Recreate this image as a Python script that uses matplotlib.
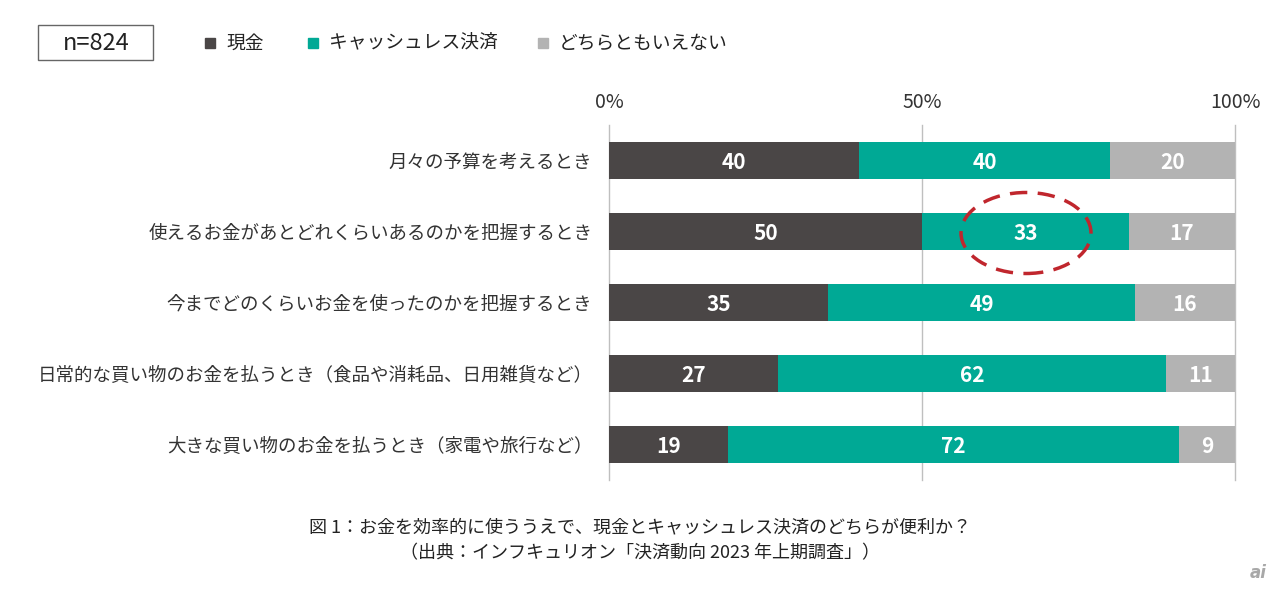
import matplotlib
matplotlib.use('Agg')
import matplotlib.pyplot as plt
from matplotlib.patches import Ellipse, Rectangle
import numpy as np

plt.rcParams['font.family'] = ['Noto Sans CJK JP', 'DejaVu Sans']

categories = [
    "月々の予算を考えるとき",
    "使えるお金があとどれくらいあるのかを把握するとき",
    "今までどのくらいお金を使ったのかを把握するとき",
    "日常的な買い物のお金を払うとき（食品や消耗品、日用雑貨など）",
    "大きな買い物のお金を払うとき（家電や旅行など）",
]
cash = [40, 50, 35, 27, 19]
cashless = [40, 33, 49, 62, 72]
neither = [20, 17, 16, 11, 9]
series_names = ["現金", "キャッシュレス決済", "どちらともいえない"]
colors = ["#4a4646", "#00a995", "#b3b3b3"]
ticks = [0, 50, 100]
tick_labels = ["0%", "50%", "100%"]

W, H = 1280, 595
fig = plt.figure(figsize=(W / 100, H / 100), dpi=100)


def px(x, y):
    return x / W, 1 - y / H


ax = fig.add_axes([609 / W, 1 - 480 / H, (1235 - 609) / W, 355 / H])
y = np.arange(len(categories))
left = np.zeros(len(categories))
for vals, name, c in zip([cash, cashless, neither], series_names, colors):
    vals = np.array(vals)
    ax.barh(y, vals, left=left, height=0.52, color=c, zorder=3)
    for yi, l, v in zip(y, left, vals):
        ax.text(l + v / 2, yi + 0.03, str(v), ha='center', va='center',
                color='white', fontsize=15, fontweight='bold', zorder=4)
    left = left + vals

ax.set_xlim(0, 100)
ax.set_ylim(len(categories) - 0.5, -0.5)
for t in ticks:
    ax.axvline(t, color='#bfbfbf', lw=1, zorder=1, clip_on=False)
ax.set_xticks(ticks)
ax.set_xticklabels(tick_labels, fontsize=14, color='#333333')
ax.xaxis.tick_top()
ax.tick_params(axis='x', length=0, pad=9)
ax.set_yticks(y)
ax.set_yticklabels(categories, fontsize=13.3, color='#333333')
ax.tick_params(axis='y', length=0, pad=12)
for s in ax.spines.values():
    s.set_visible(False)

# highlight ellipse around the 33
ell = Ellipse(px(1026, 233), 130 / W, 81 / H, transform=fig.transFigure,
              fill=False, edgecolor='#c0262d', lw=2.5, ls=(0, (5, 3)), zorder=5)
fig.add_artist(ell)

# n box
box = Rectangle(px(38, 60), 115 / W, 35 / H, transform=fig.transFigure,
                fill=False, edgecolor='#666666', lw=1)
fig.add_artist(box)
fig.text(*px(96, 43), "n=824", ha='center', va='center', fontsize=17, color='#222222')

# legend
for xs, name, c in zip([210, 313, 543], series_names, colors):
    fig.add_artist(Rectangle(px(xs - 5, 48), 10 / W, 10 / H,
                             transform=fig.transFigure, color=c))
    fig.text((xs + 16) / W, 1 - 43 / H, name, ha='left', va='center',
             fontsize=13.5, color='#222222')

# caption
fig.text(*px(640, 527), "図 1：お金を効率的に使ううえで、現金とキャッシュレス決済のどちらが便利か？",
         ha='center', va='center', fontsize=13, color='#222222')
fig.text(*px(640, 553), "（出典：インフキュリオン「決済動向 2023 年上期調査」）",
         ha='center', va='center', fontsize=13, color='#222222')

fig.text(*px(1258, 573), "ai", ha='center', va='center', fontsize=12,
         fontstyle='italic', fontweight='bold', color='#a8a8a8', family='DejaVu Sans')

fig.savefig("out.png", dpi=100)
